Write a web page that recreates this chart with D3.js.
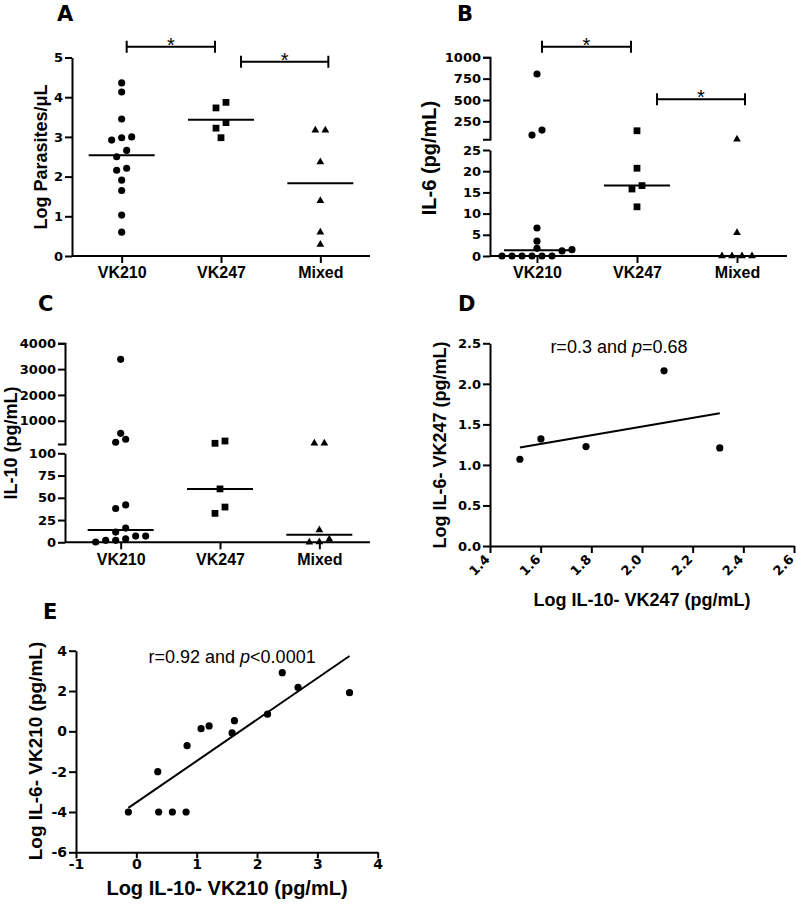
<!DOCTYPE html>
<html>
<head>
<meta charset="utf-8">
<script src="https://cdn.jsdelivr.net/npm/d3@7"></script>
<style>
    body { margin: 0; background: #fff; }
    svg { display: block; background: #fff; font-family: "Liberation Sans", Arial, sans-serif; }
    .axis path, .axis line { stroke: #000; stroke-width: 2; }
    .title { font-weight: bold; }
    .panel-letter { font-family: "DejaVu Sans", sans-serif; font-weight: bold; font-size: 21px; }
</style>
</head>
<body>
<svg id="vis-container"></svg>
<script>
const WIDTH = 796
const HEIGHT = 904
const CONTAINER = d3.select('#vis-container')

// groups on the x axis of A, B and C
const categories = ['VK210', 'VK247', 'Mixed']

// A - log parasites/uL (line = mean)
const parasitesVK210 = [4.36, 4.13, 3.45, 3.0, 2.92, 2.98, 2.66, 2.5, 2.16, 2.21, 1.91, 1.65, 1.03, 0.6]
const parasitesVK247 = [3.73, 3.87, 3.36, 3.22, 2.98]
const parasitesMixed = [3.17, 3.17, 2.37, 1.39, 0.6, 0.29]
const parasiteTicks = [0, 1, 2, 3, 4, 5]
const parasiteSig = [['VK210', 'VK247', 5.27], ['VK247', 'Mixed', 4.89]]

// B - IL-6 pg/mL (line = median), axis broken between 25 and 40
const il6VK210 = [804, 148, 89, 6.6, 3.5, 1.8, 1.5, 1.2, 0, 0, 0, 0, 0, 0]
const il6VK247 = [140, 20.7, 16.6, 15.8, 11.6]
const il6Mixed = [40, 5.5, 0, 0, 0, 0]
const il6LowDomain = [0, 25]
const il6HighDomain = [40, 1000]
const il6LowTicks = [0, 5, 10, 15, 20, 25]
const il6HighTicks = [250, 500, 750, 1000]
const il6Sig = [['VK210', 'VK247', 1124], ['VK247', 'Mixed', 508]]

// C - IL-10 pg/mL (line = median), axis broken at 100
const il10VK210 = [3380, 282, 166, 514, 38, 42, 16, 11.5, 7, 2.2, 0.3, 2.2, 4, 7]
const il10VK247 = [127, 216, 60, 39.6, 32.5]
const il10Mixed = [127, 133, 13.8, 3.4, 0, 0.3]
const il10LowDomain = [0, 100]
const il10HighDomain = [100, 4000]
const il10LowTicks = [0, 25, 50, 75, 100]
const il10HighTicks = [1000, 2000, 3000, 4000]

// D - VK247 log IL-10 vs log IL-6
const vk247LogIL10 = [1.518, 1.601, 1.779, 2.087, 2.307]
const vk247LogIL6 = [1.07, 1.32, 1.226, 2.16, 1.21]
const vk247XTicks = [1.4, 1.6, 1.8, 2.0, 2.2, 2.4, 2.6]
const vk247YTicks = [0, 0.5, 1.0, 1.5, 2.0, 2.5]
const vk247Stats = ['r=0.3 and ', 'p', '=0.68']

// E - VK210 log IL-10 vs log IL-6
const vk210LogIL10 = [-0.132, 0.355, 0.37, 0.597, 0.824, 0.841, 1.073, 1.206, 1.587, 1.626, 2.174, 2.418, 2.68, 3.533]
const vk210LogIL6 = [-4, -2, -4, -4, -4, -0.71, 0.13, 0.27, -0.08, 0.53, 0.85, 2.91, 2.18, 1.92]
const vk210XTicks = [-1, 0, 1, 2, 3, 4]
const vk210YTicks = [-6, -4, -2, 0, 2, 4]
const vk210Stats = ['r=0.92 and ', 'p', '<0.0001']

const ROW_H = 6.5
const DOT_GAP = 10
const SYMBOLS = {
    VK210: d3.symbol(d3.symbolCircle, 40),
    VK247: d3.symbol(d3.symbolSquare, 46),
    Mixed: d3.symbol(d3.symbolTriangle, 26)
}
const SIG_INSETS = [[5, -6], [20, 8]]
const NUM_FONT = 'DejaVu Sans'
const CAT_FONT = 'Liberation Sans'

initVisualization()

function initVisualization() {
    CONTAINER.attr('width', WIDTH).attr('height', HEIGHT)

    panelA()
    panelB()
    panelC()
    panelD()
    panelE()
}

function panelA() {
    const g = CONTAINER.append('g').attr('id', 'panel-a')
    const x = d3.scalePoint().domain(categories).range([72, 370]).padding(0.5)
    const y = d3.scaleLinear().domain([0, 5]).range([256, 57.5])

    letter(g, 'A', 57, 21)
    leftAxis(g, 72, y, parasiteTicks, 0, d => d)
    categoryAxis(g, x, 72, 370, y(0))
    yTitle(g, 'Log Parasites/\u03bcL', 41, 157, 18)

    dotGroups(g, x, y, [parasitesVK210, parasitesVK247, parasitesMixed], d3.mean)
    sigBars(g, x, y, parasiteSig)
}

function panelB() {
    const g = CONTAINER.append('g').attr('id', 'panel-b')
    const x = d3.scalePoint().domain(categories).range([487, 787]).padding(0.5)
    const low = d3.scaleLinear().domain(il6LowDomain).range([256, 150])
    const high = d3.scaleLinear().domain(il6HighDomain).range([139.3, 57.3])
    const y = v => v > il6LowDomain[1] ? high(v) : low(v)

    letter(g, 'B', 457, 21)
    leftAxis(g, 490, high, il6HighTicks, 7, d => d)
    leftAxis(g, 490, low, il6LowTicks, 0, d => d)
    categoryAxis(g, x, 490, 787, low(0))
    yTitle(g, 'IL-6 (pg/mL)', 429, 158, 20)

    dotGroups(g, x, y, [il6VK210, il6VK247, il6Mixed], d3.median)
    sigBars(g, x, high, il6Sig)
}

function panelC() {
    const g = CONTAINER.append('g').attr('id', 'panel-c')
    const x = d3.scalePoint().domain(categories).range([71, 369]).padding(0.5)
    const low = d3.scaleLinear().domain(il10LowDomain).range([542.3, 453.3])
    const high = d3.scaleLinear().domain(il10HighDomain).range([444, 343.3])
    const y = v => v > il10LowDomain[1] ? high(v) : low(v)

    letter(g, 'C', 38, 311)
    leftAxis(g, 65, high, il10HighTicks, 7, d => d)
    leftAxis(g, 65, low, il10LowTicks, 0, d => d)
    categoryAxis(g, x, 65, 370, low(0))
    yTitle(g, 'IL-10 (pg/mL)', 11, 443, 18)

    dotGroups(g, x, y, [il10VK210, il10VK247, il10Mixed], d3.median)
}

function panelD() {
    const g = CONTAINER.append('g').attr('id', 'panel-d')
    const x = d3.scaleLinear().domain([1.4, 2.6]).range([490, 794])
    const y = d3.scaleLinear().domain([0, 2.5]).range([546, 343.3])

    letter(g, 'D', 458, 311)
    leftAxis(g, 490, y, vk247YTicks, 0, d3.format('.1f'))

    const xa = g.append('g')
        .attr('class', 'axis')
        .attr('transform', `translate(0,${y(0)})`)
        .call(d3.axisBottom(x).tickValues(vk247XTicks).tickSize(7).tickSizeOuter(0).tickFormat(d3.format('.1f')))
    styleTicks(xa, NUM_FONT, 13)
    xa.selectAll('text')
        .attr('y', null)
        .attr('dy', '0.35em')
        .attr('text-anchor', 'end')
        .attr('transform', 'translate(-3,11) rotate(-45)')

    yTitle(g, 'Log IL-6- VK247 (pg/mL)', 440, 445, 18)
    xTitle(g, 'Log IL-10- VK247 (pg/mL)', 642, 606, 18)

    scatter(g, x, y, vk247LogIL10, vk247LogIL6)
    stats(g, vk247Stats, x(1.909), y(2.38))
}

function panelE() {
    const g = CONTAINER.append('g').attr('id', 'panel-e')
    const x = d3.scaleLinear().domain([-1, 4]).range([76, 377.7])
    const y = d3.scaleLinear().domain([-6, 4]).range([852.3, 650.7])

    letter(g, 'E', 43, 619)
    styleTicks(leftAxis(g, 76, y, vk210YTicks, 0, d => d), NUM_FONT, 14)

    const xa = g.append('g')
        .attr('class', 'axis')
        .attr('transform', `translate(0,${y(-6)})`)
        .call(d3.axisBottom(x).tickValues(vk210XTicks).tickSize(6).tickSizeOuter(0).tickPadding(1).tickFormat(d => d))
    styleTicks(xa, NUM_FONT, 14)

    yTitle(g, 'Log IL-6- VK210 (pg/mL)', 35, 751, 19)
    xTitle(g, 'Log IL-10- VK210 (pg/mL)', 227, 895, 20)

    scatter(g, x, y, vk210LogIL10, vk210LogIL6)
    stats(g, vk210Stats, x(1.587), y(3.4))
}

function letter(g, text, x, y) {
    g.append('text').attr('class', 'panel-letter').attr('x', x).attr('y', y).text(text)
}

// d3 puts font attributes on the axis group; move them onto the tick texts
function styleTicks(ax, family, size) {
    ax.attr('font-size', null).attr('font-family', null)
    ax.selectAll('text')
        .attr('font-family', family)
        .attr('font-size', size)
        .attr('font-weight', 'bold')
        .style('font-family', family)
        .style('font-size', size + 'px')
        .style('font-weight', 'bold')
        .attr('fill', '#000')
    return ax
}

function leftAxis(g, at, scale, ticks, outer, format) {
    const ax = g.append('g')
        .attr('class', 'axis')
        .attr('transform', `translate(${at},0)`)
        .call(d3.axisLeft(scale).tickValues(ticks).tickSize(7).tickSizeOuter(outer).tickPadding(2).tickFormat(format))
    return styleTicks(ax, NUM_FONT, 13)
}

function categoryAxis(g, x, from, to, at) {
    const ax = g.append('g')
        .attr('class', 'axis')
        .attr('transform', `translate(0,${at})`)
        .call(d3.axisBottom(x).tickSize(7).tickPadding(4))
    styleTicks(ax, CAT_FONT, 16)
    ax.select('.domain').remove()
    ax.append('line').attr('x1', from).attr('x2', to)
}

function yTitle(g, text, cx, cy, size) {
    g.append('text')
        .attr('class', 'title')
        .style('font-size', size + 'px')
        .attr('text-anchor', 'middle')
        .attr('transform', `translate(${cx},${cy}) rotate(-90)`)
        .attr('dy', '0.35em')
        .text(text)
}

function xTitle(g, text, cx, baseline, size) {
    g.append('text')
        .attr('class', 'title')
        .style('font-size', size + 'px')
        .attr('text-anchor', 'middle')
        .attr('x', cx)
        .attr('y', baseline)
        .text(text)
}

// Prism-like column scatter: values that land within ROW_H px share a row and spread sideways
function placeDots(values, y) {
    const pts = values.map(v => ({ v, py: y(v) })).sort((a, b) => b.py - a.py || a.v - b.v)
    const rows = []
    pts.forEach(p => {
        const row = rows[rows.length - 1]
        if (row && row[0].py - p.py < ROW_H) row.push(p)
        else rows.push([p])
    })
    rows.forEach(row => row.forEach((p, i) => { p.dx = (i - (row.length - 1) / 2) * DOT_GAP }))
    return pts
}

function dotGroups(g, x, y, series, summary) {
    series.forEach((values, i) => {
        const cat = categories[i]
        const cx = x(cat)
        const level = y(summary(values))

        g.append('line')
            .attr('x1', cx - 33).attr('x2', cx + 33)
            .attr('y1', level).attr('y2', level)
            .attr('stroke', '#000').attr('stroke-width', 2)

        g.append('g').selectAll('path')
            .data(placeDots(values, y))
            .join('path')
            .attr('d', SYMBOLS[cat])
            .attr('transform', d => `translate(${cx + d.dx},${d.py})`)
            .attr('fill', '#000')
    })
}

function sigBars(g, x, y, sig) {
    sig.forEach(([from, to, level], i) => {
        const x1 = x(from) + SIG_INSETS[i][0]
        const x2 = x(to) + SIG_INSETS[i][1]
        const yy = y(level)
        g.append('path')
            .attr('d', `M${x1},${yy - 6}V${yy + 6}M${x1},${yy}H${x2}M${x2},${yy - 6}V${yy + 6}`)
            .attr('stroke', '#000').attr('stroke-width', 2).attr('fill', 'none')
        g.append('text')
            .attr('x', (x1 + x2) / 2)
            .attr('y', yy + 5)
            .attr('text-anchor', 'middle')
            .style('font-size', '20px')
            .text('*')
    })
}

function scatter(g, x, y, xs, ys) {
    const mx = d3.mean(xs)
    const my = d3.mean(ys)
    const slope = d3.sum(xs, (v, i) => (v - mx) * (ys[i] - my)) / d3.sum(xs, v => (v - mx) * (v - mx))
    const [lo, hi] = d3.extent(xs)

    g.append('line')
        .attr('x1', x(lo)).attr('y1', y(my + slope * (lo - mx)))
        .attr('x2', x(hi)).attr('y2', y(my + slope * (hi - mx)))
        .attr('stroke', '#000').attr('stroke-width', 2)

    g.append('g').selectAll('circle')
        .data(xs.map((v, i) => [v, ys[i]]))
        .join('circle')
        .attr('cx', d => x(d[0]))
        .attr('cy', d => y(d[1]))
        .attr('r', 3.6)
        .attr('fill', '#000')
}

function stats(g, parts, cx, baseline) {
    const t = g.append('text')
        .attr('x', cx)
        .attr('y', baseline)
        .attr('text-anchor', 'middle')
        .style('font-size', '18px')
    parts.forEach((p, i) => t.append('tspan').attr('font-style', i === 1 ? 'italic' : null).text(p))
}
</script>
</body>
</html>
